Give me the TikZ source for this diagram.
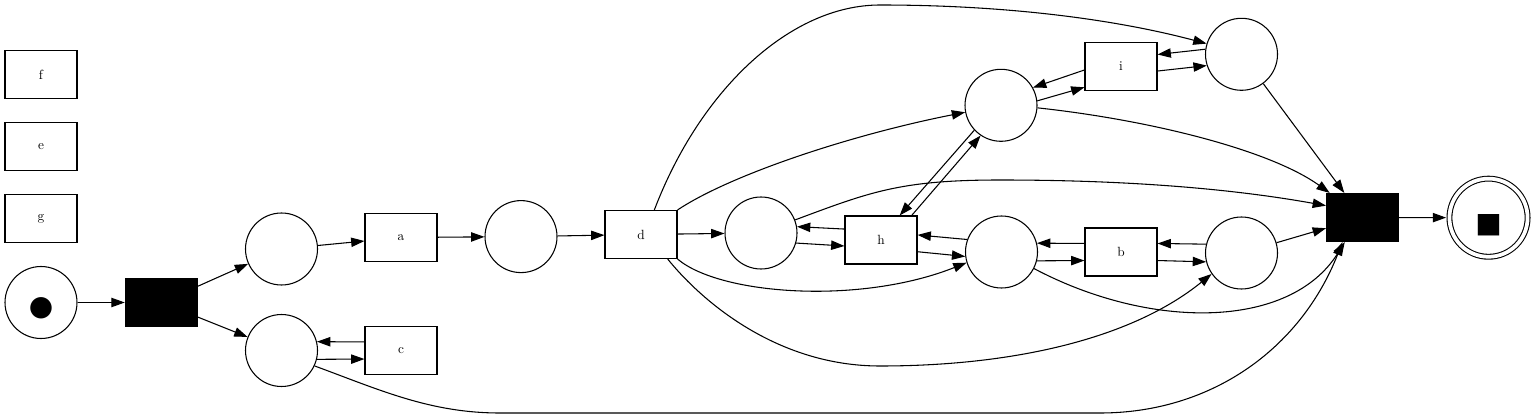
\documentclass[tikz,border=0pt]{standalone}
\usepackage{fontspec}
\usepackage{tikz}
\usetikzlibrary{arrows.meta}
\newfontfamily\symbolfont{DejaVu Sans}

\begin{document}
\begin{tikzpicture}[x=0.75pt, y=-0.75pt, line width=0.8pt,
	place/.style={shape=circle,draw=black,minimum size=54pt,inner sep=0pt},
	trans/.style={shape=rectangle,draw=black,minimum width=54pt,minimum height=36pt,inner sep=0pt},
	silent/.style={trans,fill=black},
	final/.style={place,double,double distance=2.8pt,minimum size=58.6pt,outer sep=2.5pt},
	arc/.style={-{Triangle[length=10pt,width=7pt]}}]

	\useasboundingbox (0,0) rectangle (1533,420);

	\node[trans] (f) at (41, 74.7)     {f};
	\node[trans] (e) at (41, 146.7)    {e};
	\node[trans] (g) at (41, 218.5)    {g};
	\node[place] (src) at (41, 302.5)  {\raisebox{0pt}[\dimexpr\height+8pt\relax]{\symbolfont\fontsize{21pt}{21pt}\selectfont ●}};
	\node[silent] (t1) at (161.3, 302.5) {};
	\node[place] (p1) at (281.5, 249)  {};
	\node[place] (p2) at (281.5, 350.5) {};
	\node[trans] (a) at (401, 237.5)   {a};
	\node[trans] (c) at (401, 350.5)   {c};
	\node[place] (p3) at (521, 236.6)  {};
	\node[trans] (d) at (641, 234.5)   {d};
	\node[place] (p4) at (761, 233)    {};
	\node[trans] (h) at (881, 240)     {h};
	\node[place] (p5) at (1001, 105.3) {};
	\node[trans] (i) at (1121, 66.5)   {i};
	\node[place] (p6) at (1241.5, 54.3) {};
	\node[place] (p7) at (1001.5, 252) {};
	\node[trans] (b) at (1121, 252)    {b};
	\node[place] (p8) at (1241.5, 253) {};
	\node[silent] (t2) at (1362.5, 217.5) {};
	\node[final] (snk) at (1488.5, 217.7) {\raisebox{0pt}[\dimexpr\height+12pt\relax]{\symbolfont\fontsize{21pt}{21pt}\selectfont ■}};

	\path[arc] (src) edge (t1);
	\path[arc] (t1) edge (p1);
	\path[arc] (t1) edge (p2);
	\path[arc] (p1) edge (a);
	\path[arc] (a) edge (p3);
	\path[arc] (p3) edge (d);
	\path[arc] (d) edge (p4);
	\path[arc] ([yshift=6.4pt]c.west) edge (p2.14);
	\path[arc] (p2.-14) edge ([yshift=-6.4pt]c.west);
	\path[arc] (p4.-16) edge ([yshift=-4.5pt]h.west);
	\path[arc] ([yshift=8.2pt]h.west) edge (p4.10);
	\path[arc] ([yshift=-8.8pt]h.east) edge (p7.187);
	\path[arc] (p7.160) edge ([yshift=3.8pt]h.east);
	\path[arc] ([xshift=23pt]h.north) edge (p5.236);
	\path[arc] (p5.223) edge ([xshift=14pt]h.north);
	\path[arc] (p5.7) edge ([yshift=-15.6pt]i.west);
	\path[arc] ([yshift=-2.6pt]i.west) edge (p5.29);
	\path[arc] ([yshift=-3.4pt]i.east) edge (p6.198);
	\path[arc] (p6.172) edge ([yshift=9pt]i.east);
	\path[arc] (p7.-14) edge ([yshift=-6.4pt]b.west);
	\path[arc] ([yshift=6.4pt]b.west) edge (p7.14);
	\path[arc] ([yshift=-6.4pt]b.east) edge (p8.194);
	\path[arc] (p8.166) edge ([yshift=6.4pt]b.east);
	\path[arc] (p6) edge (t2);
	\path[arc] (p8) edge (t2);
	\path[arc] (t2) edge (snk);

	\draw[arc] ([xshift=10pt]d.north) .. controls (700,90) and (790,5) .. (880,5)
		.. controls (1000,5) and (1110,18) .. (p6.163);
	\draw[arc] (d.north east) .. controls (730,175) and (850,135) .. (p5.191);
	\draw[arc] (d.south east) .. controls (720,295) and (860,305) .. (p7.197);
	\draw[arc] ([xshift=20pt]d.south) .. controls (705,305) and (780,366) .. (880,366)
		.. controls (1010,366) and (1130,340) .. (p8.215);
	\draw[arc] (p4.21) .. controls (870,192) and (900,180) .. (1000,180)
		.. controls (1150,180) and (1250,192) .. ([yshift=8.9pt]t2.west);
	\draw[arc] (p5.-4) .. controls (1150,120) and (1270,150) .. ([xshift=-24.6pt]t2.north);
	\draw[arc] (p7.-27) .. controls (1150,330) and (1290,330) .. ([xshift=-13.3pt]t2.south);
	\draw[arc] (p2.-25) .. controls (380,390) and (430,413) .. (500,413) -- (1100,413)
		.. controls (1210,413) and (1300,350) .. ([xshift=-15pt]t2.south);
\end{tikzpicture}
\end{document}
